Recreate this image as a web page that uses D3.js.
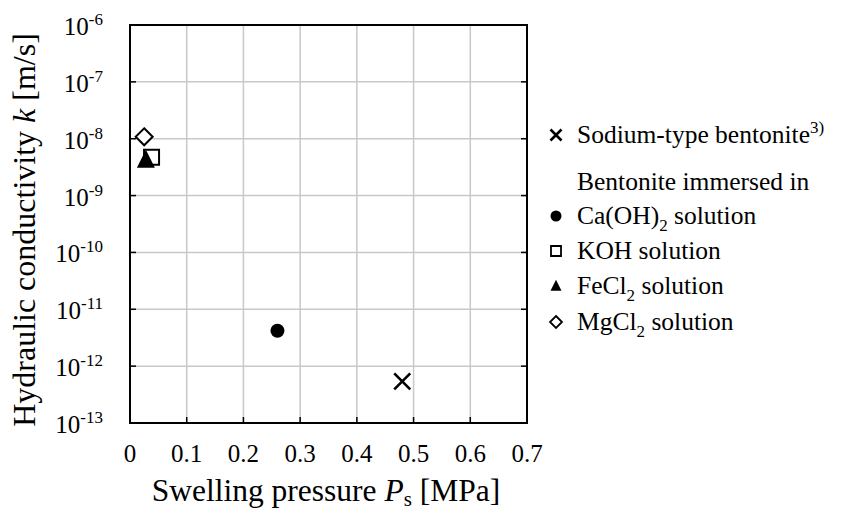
<!DOCTYPE html>
<html>
<head>
<meta charset="utf-8">
<script src="https://cdn.jsdelivr.net/npm/d3@7"></script>
<style>
  body { margin: 0; background: #fff; }
  svg { font-family: "Liberation Serif", "Times New Roman", serif; }
</style>
</head>
<body>
<div id="container"></div>
<script>
/* CONSTANTS AND GLOBALS */
const width = 846,
  height = 511,
  margin = { top: 25, bottom: 88, left: 130, right: 319 };

/* DATA */
const seriesNames = ["Sodium-type bentonite", "Ca(OH)2", "KOH", "FeCl2", "MgCl2"];
const seriesSymbols = ["times", "circle", "square", "triangle", "diamond"];
const swellingPressure = [0.48, 0.26, 0.038, 0.028, 0.025]; // MPa
const conductivity = [5.4e-13, 4.2e-12, 4.7e-9, 4.2e-9, 1.08e-8]; // m/s
const xTicks = [0, 0.1, 0.2, 0.3, 0.4, 0.5, 0.6, 0.7];
const yExponents = [-6, -7, -8, -9, -10, -11, -12, -13];

// legend rows: text pieces, 0 = normal, 1 = subscript, -1 = superscript
const legendRows = [
  { sym: "times", parts: [["Sodium-type bentonite", 0], ["3)", -1]] },
  { sym: null, parts: [["Bentonite immersed in", 0]] },
  { sym: "circle", parts: [["Ca(OH)", 0], ["2", 1], [" solution", 0]] },
  { sym: "square", parts: [["KOH solution", 0]] },
  { sym: "triangle", parts: [["FeCl", 0], ["2", 1], [" solution", 0]] },
  { sym: "diamond", parts: [["MgCl", 0], ["2", 1], [" solution", 0]] }
];

const svg = d3.select("#container")
  .append("svg")
  .attr("width", width)
  .attr("height", height);

const innerW = width - margin.left - margin.right,
  innerH = height - margin.top - margin.bottom;

// SCALES
const x = d3.scaleLinear().domain([0, 0.7]).range([margin.left, margin.left + innerW]);
const y = d3.scaleLog().domain([1e-13, 1e-6]).range([margin.top + innerH, margin.top]);

// GRID
svg.append("g")
  .selectAll("line")
  .data(xTicks.slice(1, -1))
  .join("line")
  .attr("x1", d => x(d)).attr("x2", d => x(d))
  .attr("y1", margin.top).attr("y2", margin.top + innerH)
  .attr("stroke", "#c8c8c8").attr("stroke-width", 1.5);

svg.append("g")
  .selectAll("line")
  .data(yExponents.slice(1, -1))
  .join("line")
  .attr("x1", margin.left).attr("x2", margin.left + innerW)
  .attr("y1", d => y(Math.pow(10, d))).attr("y2", d => y(Math.pow(10, d)))
  .attr("stroke", "#c8c8c8").attr("stroke-width", 1.5);

// TICK MARKS (inside)
svg.append("g")
  .selectAll("line")
  .data(xTicks)
  .join("line")
  .attr("x1", d => x(d)).attr("x2", d => x(d))
  .attr("y1", margin.top + innerH).attr("y2", margin.top + innerH - 6)
  .attr("stroke", "#000").attr("stroke-width", 1.5);

svg.append("g")
  .selectAll("line")
  .data(yExponents)
  .join("line")
  .attr("x1", margin.left).attr("x2", margin.left + 6)
  .attr("y1", d => y(Math.pow(10, d))).attr("y2", d => y(Math.pow(10, d)))
  .attr("stroke", "#000").attr("stroke-width", 1.5);

svg.append("g")
  .selectAll("line")
  .data(yExponents)
  .join("line")
  .attr("x1", margin.left + innerW).attr("x2", margin.left + innerW - 6)
  .attr("y1", d => y(Math.pow(10, d))).attr("y2", d => y(Math.pow(10, d)))
  .attr("stroke", "#000").attr("stroke-width", 1.5);

// FRAME
svg.append("rect")
  .attr("x", margin.left).attr("y", margin.top)
  .attr("width", innerW).attr("height", innerH)
  .attr("fill", "none").attr("stroke", "#000").attr("stroke-width", 2);

// TICK LABELS
svg.append("g")
  .selectAll("text")
  .data(xTicks)
  .join("text")
  .attr("x", d => x(d))
  .attr("y", margin.top + innerH + 39)
  .attr("text-anchor", "middle")
  .attr("font-size", 25)
  .text(d => d === 0 ? "0" : d3.format(".1f")(d));

const yLab = svg.append("g")
  .selectAll("text")
  .data(yExponents)
  .join("text")
  .attr("x", margin.left - 27)
  .attr("y", d => y(Math.pow(10, d)) + 10)
  .attr("text-anchor", "end")
  .attr("font-size", 25);
yLab.append("tspan").text("10");
yLab.append("tspan").attr("font-size", 17).attr("dy", -10).text(d => String(d));

// AXIS TITLES
const xTitle = svg.append("text")
  .attr("x", 326)
  .attr("y", 501)
  .attr("text-anchor", "middle")
  .attr("font-size", 31.5);
xTitle.append("tspan").text("Swelling pressure ");
xTitle.append("tspan").attr("font-style", "italic").text("P");
xTitle.append("tspan").attr("font-size", 21).attr("dy", 5).text("s");
xTitle.append("tspan").attr("dy", -5).text(" [MPa]");

const yTitle = svg.append("text")
  .attr("transform", `translate(35,230) rotate(-90)`)
  .attr("text-anchor", "middle")
  .attr("font-size", 32);
yTitle.append("tspan").text("Hydraulic conductivity ");
yTitle.append("tspan").attr("font-style", "italic").text("k");
yTitle.append("tspan").text(" [m/s]");

// SYMBOLS
function symbolPath(type, s) {
  const h = s / 2;
  if (type === "times") return `M${-h},${-h}L${h},${h}M${-h},${h}L${h},${-h}`;
  if (type === "square") return `M${-h},${-h}H${h}V${h}H${-h}Z`;
  if (type === "triangle") return `M0,${-h * 1.15}L${h},${h * 0.85}L${-h},${h * 0.85}Z`;
  if (type === "diamond") return `M0,${-h}L${h},0L0,${h}L${-h},0Z`;
  return d3.arc()({ innerRadius: 0, outerRadius: h, startAngle: 0, endAngle: 2 * Math.PI });
}
function symbolStyle(sel, type, big) {
  const sw = big ? 2 : 1.8;
  if (type === "times") sel.attr("fill", "none").attr("stroke", "#000").attr("stroke-width", 2.6);
  else if (type === "square" || type === "diamond") sel.attr("fill", "#fff").attr("stroke", "#000").attr("stroke-width", sw);
  else sel.attr("fill", "#000").attr("stroke", "none");
}
const plotSize = { times: 16, circle: 14, square: 15, triangle: 18, diamond: 17 };
const legSize = { times: 11, circle: 11, square: 10, triangle: 11, diamond: 12 };

// square before triangle so the triangle sits on top
seriesSymbols.forEach((s, i) => {
  const p = svg.append("path")
    .attr("d", symbolPath(s, plotSize[s]))
    .attr("transform", `translate(${x(swellingPressure[i])},${y(conductivity[i])})`);
  symbolStyle(p, s, true);
});

// LEGEND
const legX = 556, legTextX = 577;
const legY = [143, 190, 224, 259, 294, 330];
legendRows.forEach((r, i) => {
  if (r.sym) {
    const p = svg.append("path")
      .attr("d", symbolPath(r.sym, legSize[r.sym]))
      .attr("transform", `translate(${legX},${legY[i] - 8})`);
    symbolStyle(p, r.sym, false);
  }
  const t = svg.append("text")
    .attr("x", legTextX).attr("y", legY[i])
    .attr("font-size", 25.5);
  let shift = 0;
  r.parts.forEach(([txt, mode]) => {
    const target = mode === 1 ? 7 : mode === -1 ? -10 : 0;
    const ts = t.append("tspan").attr("dy", target - shift).text(txt);
    if (mode !== 0) ts.attr("font-size", 17);
    shift = target;
  });
});
</script>
</body>
</html>
